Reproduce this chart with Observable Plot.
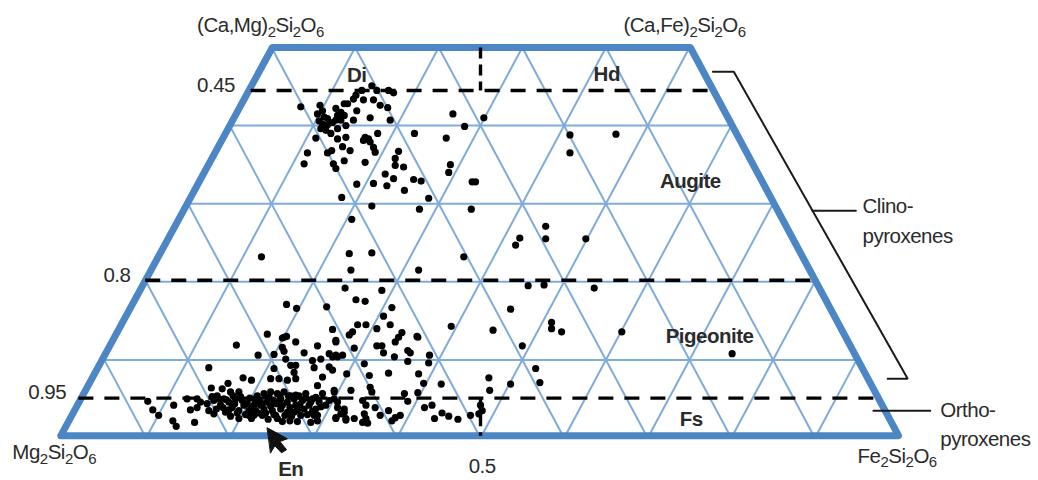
<!DOCTYPE html>
<html>
<head>
<meta charset="utf-8">
<script src="https://cdn.jsdelivr.net/npm/d3@7"></script>
<script src="https://cdn.jsdelivr.net/npm/@observablehq/plot@0.6"></script>
<style>
html,body{margin:0;padding:0;background:#fff}
svg{display:block}
svg text{letter-spacing:-0.5px}
</style>
</head>
<body>
<div id="chart"></div>
<script>
// Composition axes: position along the En-Fs base (0-100) and Wo content (0-50)
const gridLevels = [10, 20, 30, 40];
const gridStarts = [10, 20, 30, 40, 50, 60, 70, 80, 90];
const outlineU = [-0.2, 25.1, 75.1, 100, -0.2];
const outlineWo = [0.3, 50, 50, 0.3, 0.3];

// Grains: [base position, Wo]
const upperGrains = [[28.5,42.4],[30.8,42.6],[31.1,41.9],[30.5,41.5],[32.7,42.2],[33.7,42.8],[34.1,42.8],[34.8,43.4],[35.1,43.9],[36,43.3],[37.2,43.3],[37,45.1],[38,42.6],[38.9,42.3],[35.2,41.9],[34.8,40.7],[36.8,41],[39.2,40.7],[39,44.5],[39.6,44.2],[35.8,44.5],[37.6,44.5],[30.7,40.6],[31.3,41.1],[31.7,40.9],[31.1,40.2],[31.7,40.1],[32.3,40.4],[32.9,41.3],[33.3,41.7],[33.7,41.3],[32.7,40.7],[33.3,40.7],[33.9,40],[30.9,39.6],[31.5,39.4],[32.1,39],[32.9,39.6],[30.3,38.4],[32.9,38.3],[33.9,38.5],[33.5,37.3],[34.4,36.8],[32.2,36.8],[31.7,36.5],[29.3,36.5],[28.9,35.1],[33.7,35.5],[32.4,35.1],[32.7,34.5],[36.2,35.3],[36.2,38.5],[36,38.1],[36.6,38.3],[36.8,37.9],[37.2,37.2],[37.4,36.6],[37.7,39],[40.2,36.7],[39.8,35.8],[39.8,34.9],[40.8,34.7],[38.6,33.8],[39.6,33.2],[38.8,32.3],[37.2,32.6],[35.2,32.5],[33.4,30.8],[40.9,31.7],[42,33.1],[42.9,32.9],[43.8,30.7],[37,29.7],[42.7,29.3],[42.1,39],[45.9,38.4],[46.7,41.5],[48.1,39.9],[50.4,41],[46.4,35],[46.2,34],[49,32.8],[49.4,32.8],[48.9,29.3],[60.7,38.8],[60.7,36.5],[66.2,38.9]];
const middleGrains = [[34.6,28],[23.8,23.2],[34.3,23.6],[37,23.7],[48,23.2],[34.5,21.5],[42.6,21.5],[33.8,19.2],[38.2,18.9],[35.1,17.7],[36.2,17.5],[26.8,17.1],[28,16.6],[31.6,16.8],[39.4,16.7],[38.4,15.6],[39.2,14.5],[35.3,14.5],[36.3,14.5],[37.6,14],[32.3,13.9],[46.5,14.3],[24.5,13.3],[26.8,13],[26.3,12.8],[34.7,13.6],[34.3,13.2],[40.6,13.5],[40.2,12.9],[42.4,13],[32.7,12.5],[57.8,27.1],[54.7,25.6],[54.2,24.7],[57.8,25.5],[62.6,25.5],[55.7,19.5],[57.6,19.6],[63.6,19.2],[53.6,16.5],[58.5,14.8],[58.5,14],[59.7,13.6],[51.5,13.8],[66.9,13.6],[55,11.8],[80.1,10.8],[56.6,8.9]];
const lowerRightGrains = [[57.1,7.1],[51,7.7],[51.1,6.1],[53.6,6.9],[42.5,12.9],[39.8,12.3],[37.6,11.8],[38.2,11.8],[38.4,10.9],[39.7,10.4],[41.3,11.2],[41.6,10.9],[41.3,9.8],[43.9,10.6],[43.8,9.6],[34.9,11.5],[32.3,10.4],[32.9,10.4],[33.5,10.6],[36.1,9.5],[32.3,8.7],[36.7,8],[34,8.2],[39,8.3],[42.6,8.2],[43.2,7],[45.3,6.9],[42.5,5.8],[36.8,6.5],[37,5.9],[34.5,6.1],[32.5,5.9],[40.9,5.7],[41.3,4.7],[35.9,4.8],[36.3,4.2],[32.9,4.6],[37.4,3.9],[39,3.5],[38,2.9],[39.4,2.2],[40.4,2.9],[39.8,2.6],[36.1,3.1],[36.3,2.5],[36.5,1.9],[35.9,2],[32.7,2.6],[33.7,3.3],[33.9,2.3],[34.9,2.5],[43.3,3.9],[44.2,4.2],[45.4,3.2],[46.2,2.8],[47.3,2.4],[44.5,2.5],[48.8,2.9],[50,4.2],[50.2,3.5],[49.8,3.1]];
const lowerLeftGrains = [[10.2,4.7],[10.8,3.6],[11.5,2.9],[13.3,4.2],[13.2,2.2],[13.6,1.5],[15.8,2],[14.9,5],[16.1,5],[16.5,4.6],[16.1,3.9],[15.3,3.6],[17.5,9],[20.8,11.9],[23.4,10.6],[17.8,6.4],[21.6,7.7],[22.6,7.4],[19.8,7],[19.1,6.3],[20.1,5.9],[21.1,5.9],[18.5,5.4],[19.3,5],[18.1,4.8],[18.9,4.2],[19.9,4.6],[20.7,5],[21.5,4.8],[22.1,4.4],[17.5,3.5],[18.1,3.1],[19.5,3.3],[20.3,3.9],[21.1,3.5],[20.1,2.8],[21.1,2.5],[22.3,3.5],[22.9,4.2],[23.5,4.8],[24.1,5.7],[24.9,5.9],[25.7,5.7],[26.5,5.9],[27.3,5.4],[28.3,5.4],[29.1,5.7],[29.9,5],[30.7,4.6],[23.3,5.4],[23.7,4.2],[24.5,4.6],[25.3,4.8],[26.1,5],[26.9,4.6],[27.7,5],[28.7,4.8],[29.5,4.2],[30.3,3.7],[23.1,3.5],[24.1,3.7],[25.1,3.5],[26.1,3.7],[26.9,3.3],[27.9,4.2],[27.7,3.3],[25.5,2.9],[23.9,2.9],[22.9,2.9],[22.3,2.9],[25.7,2.5],[30.1,2.9],[29.7,2],[30.5,2.2],[31.1,5.7],[31.9,4.8],[31.5,4.2],[32.7,2.5],[33.3,3.1],[33.9,2.5],[32.5,5],[33.7,3.7],[32.9,3.9],[26.5,12.9],[27.9,12.3],[26.3,11.6],[26.5,11.1],[28.9,10.9],[30.5,11.8],[32.7,12.3],[25.3,10.7],[29.9,9.9],[30.9,10.1],[31.9,10.8],[32.7,10.6],[26.7,10.1],[25.3,8.9],[24.9,7.6],[25.9,7.6],[27.3,9.3],[27.9,9.3],[27.7,8.4],[26.9,7.4],[27.9,7.6],[30.1,9],[31.9,9.1],[31.1,7.8],[30.5,6.7],[32.5,6.1]];
const enstatiteBand = [[17.3,4.4],[17.9,5.3],[18.4,3.7],[18.7,5],[19.2,3.9],[19.6,4.9],[19.9,3.6],[20.4,5.4],[20.6,4.4],[20.9,3.2],[21.3,5.3],[21.7,4.2],[21.9,3],[22.4,5.1],[22.6,3.9],[23,5],[23.4,3.2],[23.9,4.4],[24.3,3.2],[24.7,5.2],[24.9,4.1],[25.3,3],[25.6,4.4],[26,5.4],[26.3,4.2],[26.6,2.9],[27,5.4],[27.2,3.9],[27.4,2.8],[27.9,5.5],[28.1,3.6],[28.4,4.3],[28.5,2.9],[28.9,3.7],[29.1,5.1],[29.3,3],[29.7,4.6],[29.9,3.4],[30.3,5.2],[30.5,2.9],[30.9,4],[24.6,2.4],[26.3,2.1],[27.2,2.2],[28.1,2.1],[22.6,2.5]];

// Dashed composition boundaries
const dashedLevels = [
  {wo: 44.5, from: 22.5, to: 77.5},
  {wo: 20.2, from: 9.9, to: 90},
  {wo: 5.1, from: 1.9, to: 97.5}
];
const dashedStems = [
  {u: 50, from: 50, to: 44.5},
  {u: 50, from: 5.1, to: 0.3}
];

// Text
const tickTexts = ["0.45", "0.8", "0.95"];
const tickU = [16.1, 4.9, -4.1];
const tickWo = [45.2, 20.8, 5.8];
const formulaTexts = ["(Ca,Mg)2Si2O6", "(Ca,Fe)2Si2O6", "Mg2Si2O6", "Fe2Si2O6"];
const formulaU = [16.1, 67.1, -6, 95.1];
const formulaWo = [52.8, 52.8, -1.9, -2.3];
const endTexts = ["Di", "Hd", "Augite", "Pigeonite", "Fs", "En"];
const endU = [35.2, 65.1, 75.1, 77.4, 75.2, 27.3];
const endWo = [46.4, 46.5, 32.8, 13, 2.4, -4];
const familyTexts = ["Clino-", "pyroxenes", "Ortho-", "pyroxenes"];
const familyU = [95.7, 95.7, 105, 105];
const familyWo = [29.6, 25.8, 3.5, -0.2];

// Leader lines and the En arrow
const clinoBracket = [[77.8,46.9],[80.3,46.9],[101.1,7.6],[98.7,7.6]];
const clinoLeader = [[89.7,29.1],[94.9,29.1]];
const orthoLeader = [[97,3.5],[103.8,3.5]];
const enArrow = [[24.5,1.3],[26.9,-0.1],[26,-0.45],[26.8,-1.5],[26.2,-1.9],[25.4,-1],[24.9,-1.9]];

const hLinks = gridLevels.map(w => ({x1: w / 2, x2: 100 - w / 2, y1: w, y2: w}));
const rising = gridStarts.map(s => { const w = Math.min(50, 100 - s); return {x1: s, y1: 0, x2: s + w / 2, y2: w}; });
const falling = gridStarts.map(s => { const w = Math.min(50, s); return {x1: s, y1: 0, x2: s - w / 2, y2: w}; });
const gridLinks = [...hLinks, ...rising, ...falling];
const outline = outlineU.map((u, i) => ({u, wo: outlineWo[i]}));
const grains = [...upperGrains, ...middleGrains, ...lowerRightGrains, ...lowerLeftGrains, ...enstatiteBand];
const zip = (t, u, w) => t.map((text, i) => ({text, u: u[i], wo: w[i]}));

const FONT = "Liberation Sans, Arial, sans-serif";
const INK = "#2b2b2b";
const textOpts = (extra) => ({x: "u", y: "wo", text: "text", fontFamily: FONT, fontSize: 20.5, fill: INK, lineAnchor: "middle", ...extra});

const chart = Plot.plot({
  width: 1038,
  height: 480,
  marginTop: 0, marginRight: 0, marginBottom: 0, marginLeft: 0,
  style: {background: "#fff", overflow: "visible"},
  x: {domain: [0, 100], range: [62, 898], axis: null},
  y: {domain: [0, 50], range: [437.5, 47], axis: null},
  marks: [
    Plot.link(gridLinks, {x1: "x1", y1: "y1", x2: "x2", y2: "y2", stroke: "#7fabda", strokeWidth: 2}),
    Plot.line(outline, {x: "u", y: "wo", stroke: "#4d86c4", strokeWidth: 7, strokeLinejoin: "round", strokeLinecap: "round"}),
    Plot.link(dashedLevels, {x1: "from", x2: "to", y1: "wo", y2: "wo", stroke: "#000", strokeWidth: 3.4, strokeDasharray: "15,11"}),
    Plot.link(dashedStems, {x1: "u", x2: "u", y1: "from", y2: "to", stroke: "#000", strokeWidth: 3.4, strokeDasharray: "11,6"}),
    Plot.dot(grains, {x: d => d[0], y: d => d[1], r: 3.6, fill: "#000", stroke: "none"}),
    Plot.line(clinoBracket, {x: d => d[0], y: d => d[1], stroke: "#1a1a1a", strokeWidth: 2, strokeLinejoin: "miter"}),
    Plot.line(clinoLeader, {x: d => d[0], y: d => d[1], stroke: "#1a1a1a", strokeWidth: 2}),
    Plot.line(orthoLeader, {x: d => d[0], y: d => d[1], stroke: "#1a1a1a", strokeWidth: 2}),
    Plot.line(enArrow, {x: d => d[0], y: d => d[1], fill: "#111", stroke: "#111", strokeWidth: 1, curve: "linear-closed"}),
    Plot.text(zip(tickTexts, tickU, tickWo), textOpts({textAnchor: "start"})),
    Plot.text([{text: "0.5", u: 50.2, wo: -3.65}], textOpts({textAnchor: "middle"})),
    Plot.text(zip(formulaTexts, formulaU, formulaWo), textOpts({textAnchor: "start", className: "formula"})),
    Plot.text(zip(endTexts, endU, endWo), textOpts({textAnchor: "middle", fontWeight: "bold"})),
    Plot.text(zip(familyTexts, familyU, familyWo), textOpts({textAnchor: "start"}))
  ]
});

// Set the digits of the mineral formulas as subscripts
d3.select(chart).selectAll("g.formula text").each(function () {
  const label = this.textContent;
  const node = d3.select(this);
  node.text(null);
  let shifted = false;
  for (const part of label.split(/(\d)/)) {
    if (!part) continue;
    const isSub = /\d/.test(part);
    const span = node.append("tspan").text(part);
    if (isSub) span.attr("font-size", 15);
    if (isSub !== shifted) span.attr("dy", isSub ? 4.5 : -4.5);
    shifted = isSub;
  }
});

document.getElementById("chart").append(chart);
</script>
</body>
</html>
